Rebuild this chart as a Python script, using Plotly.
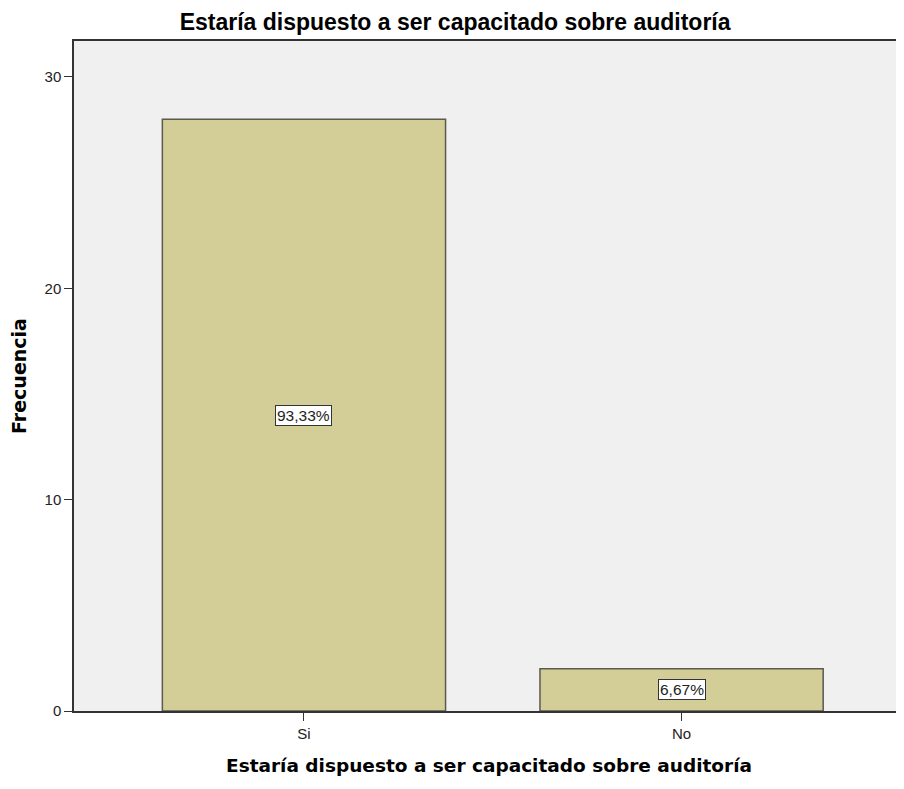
"""Bar chart: willingness to be trained on auditing."""

import plotly.graph_objects as go

categories = ["Si", "No"]
counts = [28, 2]
percent_labels = ["93,33%", "6,67%"]
y_ticks = [0, 10, 20, 30]

TITLE = "Estaría dispuesto a ser capacitado sobre auditoría"
SANS = "Liberation Sans, Arial"
BOLD_SANS = "DejaVu Sans, Verdana"

fig = go.Figure(
    go.Bar(
        x=categories,
        y=counts,
        width=0.75,
        marker=dict(color="#D3CE97", line=dict(color="#5A5A50", width=1.5)),
        hoverinfo="skip",
    )
)

for cat, val, lab in zip(categories, counts, percent_labels):
    fig.add_annotation(
        x=cat,
        y=val / 2,
        text=lab,
        showarrow=False,
        bgcolor="white",
        bordercolor="#333333",
        borderwidth=1,
        borderpad=1,
        font=dict(family=SANS, size=15.5, color="#222222"),
    )

# page body has an 8px margin; keep the figure small enough to avoid scrollbars
fig.update_layout(
    width=896,
    height=773,
    paper_bgcolor="white",
    plot_bgcolor="#F0F0F0",
    margin=dict(l=66, r=0, t=33, b=70),
    showlegend=False,
    title=dict(
        text=TITLE,
        x=0.499,
        xref="container",
        xanchor="center",
        y=0.982,
        yref="container",
        yanchor="middle",
        font=dict(family=SANS, size=23, color="black", weight="bold"),
    ),
)

fig.update_xaxes(
    range=[-0.609, 1.589],
    showline=True,
    linecolor="#333333",
    linewidth=1.5,
    mirror=True,
    ticks="outside",
    ticklen=8,
    tickcolor="#333333",
    tickfont=dict(family=SANS, size=15, color="#222222"),
    showgrid=False,
    title=dict(
        text=TITLE,
        font=dict(family=BOLD_SANS, size=18.5, color="black", weight="bold"),
        standoff=18,
    ),
)

fig.update_yaxes(
    range=[0, 31.7],
    tickvals=y_ticks,
    showline=True,
    linecolor="#333333",
    linewidth=1.5,
    ticks="outside",
    ticklen=8,
    tickcolor="#333333",
    tickfont=dict(family=SANS, size=15, color="#222222"),
    showgrid=False,
    zeroline=False,
    title=dict(
        text="Frecuencia",
        font=dict(family=BOLD_SANS, size=19, color="black", weight="bold"),
        standoff=23,
    ),
)

fig.write_html("out.html")
